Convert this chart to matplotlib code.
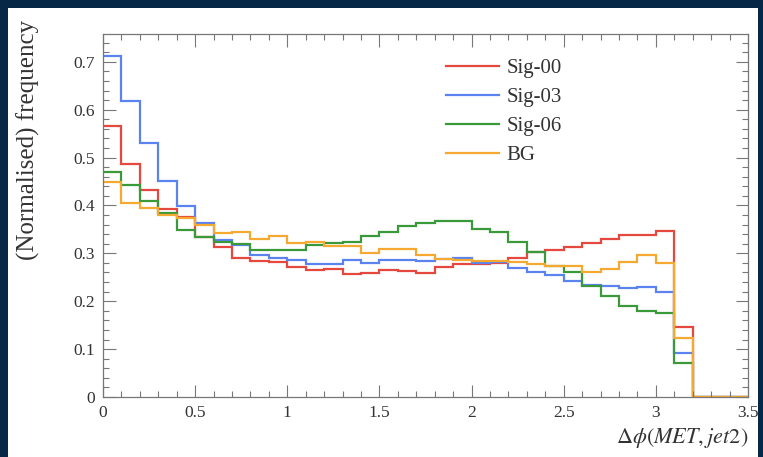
import numpy as np
import matplotlib
matplotlib.use("Agg")
import matplotlib.pyplot as plt
from matplotlib.ticker import MultipleLocator, FixedLocator, FixedFormatter
from matplotlib.patches import Rectangle

plt.rcParams['font.family'] = ['Liberation Serif', 'DejaVu Serif']
plt.rcParams['mathtext.fontset'] = 'stix'

# bin edges: 0.1 wide bins from 0 to 3.5
bin_width = 0.1
n_bins = 35

sig00 = [0.566, 0.486, 0.432, 0.393, 0.375, 0.335, 0.314, 0.290, 0.285, 0.281,
         0.272, 0.265, 0.267, 0.257, 0.258, 0.265, 0.264, 0.258, 0.272, 0.278,
         0.277, 0.279, 0.290, 0.303, 0.307, 0.314, 0.321, 0.329, 0.338, 0.338,
         0.347, 0.146, 0.0, 0.0, 0.0]
sig03 = [0.713, 0.619, 0.530, 0.451, 0.399, 0.364, 0.328, 0.317, 0.296, 0.291,
         0.287, 0.278, 0.278, 0.287, 0.280, 0.286, 0.287, 0.284, 0.288, 0.290,
         0.279, 0.282, 0.269, 0.262, 0.255, 0.242, 0.234, 0.232, 0.227, 0.229,
         0.220, 0.091, 0.0, 0.0, 0.0]
sig06 = [0.470, 0.443, 0.410, 0.385, 0.349, 0.335, 0.324, 0.319, 0.308, 0.307,
         0.307, 0.317, 0.321, 0.324, 0.336, 0.345, 0.357, 0.363, 0.367, 0.368,
         0.350, 0.344, 0.324, 0.303, 0.274, 0.260, 0.232, 0.211, 0.189, 0.180,
         0.175, 0.072, 0.0, 0.0, 0.0]
bg = [0.448, 0.406, 0.395, 0.381, 0.373, 0.359, 0.343, 0.345, 0.330, 0.337,
      0.322, 0.323, 0.315, 0.315, 0.300, 0.310, 0.310, 0.296, 0.288, 0.287,
      0.284, 0.284, 0.282, 0.278, 0.274, 0.274, 0.262, 0.267, 0.282, 0.297,
      0.279, 0.123, 0.0, 0.0, 0.0]

labels = ['Sig-00', 'Sig-03', 'Sig-06', 'BG']
colors = ['#e5483f', '#5b83f0', '#3a9a3a', '#f5a931']
series = [sig00, sig03, sig06, bg]

x_ticks = [0, 0.5, 1, 1.5, 2, 2.5, 3, 3.5]
x_ticklabels = ['0', '0.5', '1', '1.5', '2', '2.5', '3', '3.5']
y_ticks = [0, 0.1, 0.2, 0.3, 0.4, 0.5, 0.6, 0.7]
y_ticklabels = ['0', '0.1', '0.2', '0.3', '0.4', '0.5', '0.6', '0.7']

W, H = 763, 457
fig = plt.figure(figsize=(W / 100, H / 100), dpi=100)
fig.patch.set_facecolor('#062846')
fig.patches.append(Rectangle((8 / W, 0), (758 - 8) / W, (H - 8) / H,
                             transform=fig.transFigure, facecolor='white',
                             edgecolor='none', zorder=-5))

ax = fig.add_axes([103 / W, (H - 397) / H, (748 - 103) / W, (397 - 34) / H])
ax.set_zorder(2)
ax.patch.set_alpha(0)
edges = np.arange(n_bins + 1) * bin_width
for vals, lab, col in zip(series, labels, colors):
    ax.stairs(vals, edges, color=col, linewidth=1.6, label=lab, baseline=None)

ax.set_xlim(0, 3.5)
ax.set_ylim(0, 0.758)
ax.xaxis.set_major_locator(FixedLocator(x_ticks))
ax.xaxis.set_major_formatter(FixedFormatter(x_ticklabels))
ax.xaxis.set_minor_locator(MultipleLocator(0.1))
ax.yaxis.set_major_locator(FixedLocator(y_ticks))
ax.yaxis.set_major_formatter(FixedFormatter(y_ticklabels))
ax.yaxis.set_minor_locator(MultipleLocator(0.02))
ax.tick_params(which='both', direction='in', top=True, right=True,
               color='#777777', width=0.8, labelsize=12.5, labelcolor='#333333')
ax.tick_params(which='major', length=9, pad=6)
ax.tick_params(which='minor', length=4.5)
for s in ax.spines.values():
    s.set_color('#777777')
    s.set_linewidth(0.9)

fig.text(28 / W, (H - 20) / H, '(Normalised) frequency', rotation=90,
         ha='center', va='top', fontsize=18, color='#333333', zorder=3)
fig.text(748 / W, (H - 438) / H, r'$\Delta\phi(MET, jet2)$', ha='right',
         va='center', fontsize=16, color='#333333', zorder=3)

leg = ax.legend(loc='upper left', bbox_to_anchor=(427 / W, (H - 40) / H),
                bbox_transform=fig.transFigure, frameon=False, fontsize=15,
                handlelength=2.55, labelspacing=0.45, handletextpad=0.35)
for t in leg.get_texts():
    t.set_color('#333333')

fig.savefig('out.png', dpi=100, facecolor=fig.get_facecolor())
